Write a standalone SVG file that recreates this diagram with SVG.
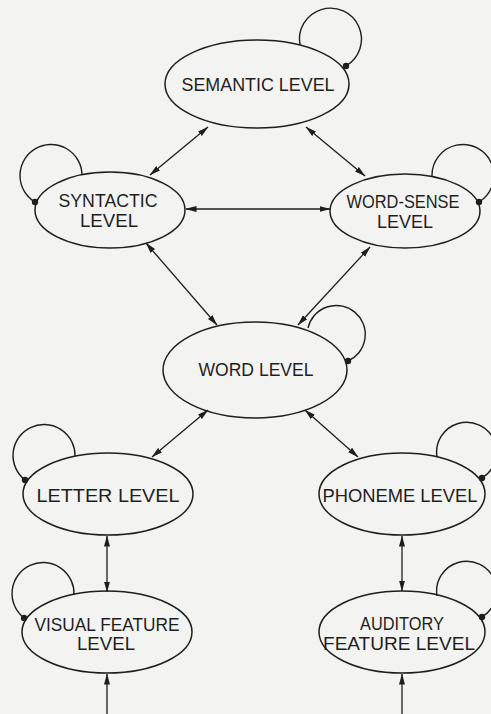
<svg xmlns="http://www.w3.org/2000/svg" width="491" height="714" viewBox="0 0 491 714">
<style>
.bg{fill:#f3f4f2}
.node ellipse{fill:none;stroke:#1e1e1e;stroke-width:1.5}
.loop{fill:none;stroke:#1e1e1e;stroke-width:1.4}
.dot{fill:#1e1e1e}
.lbl{font-family:"Liberation Sans",Arial,sans-serif;font-size:19px;fill:#1e1e1e;text-anchor:middle}
.edge{fill:none;stroke:#1e1e1e;stroke-width:1.3}
.bi{marker-start:url(#ah);marker-end:url(#ah)}
.uni{marker-end:url(#ah)}
</style>
<defs>
<marker id="ah" markerUnits="userSpaceOnUse" markerWidth="11" markerHeight="7" refX="10.5" refY="3.5" orient="auto-start-reverse" viewBox="0 0 11 7">
<path d="M0,0.5 L11,3.5 L0,6.5 Z" fill="#1e1e1e"/>
</marker>
</defs>
<rect class="bg" x="0" y="0" width="491" height="714"/>

<g id="connectors">
<line class="edge bi" x1="208" y1="127" x2="150" y2="175"/>
<line class="edge bi" x1="306" y1="127" x2="365" y2="176"/>
<line class="edge bi" x1="186" y1="209" x2="330" y2="209"/>
<line class="edge bi" x1="146" y1="243" x2="217" y2="325"/>
<line class="edge bi" x1="370" y1="247" x2="298" y2="325"/>
<line class="edge bi" x1="208" y1="410" x2="152" y2="457"/>
<line class="edge bi" x1="305" y1="410" x2="358" y2="457"/>
<line class="edge bi" x1="107" y1="536" x2="107" y2="592"/>
<line class="edge bi" x1="402" y1="536" x2="402" y2="591"/>
<line class="edge uni" x1="107" y1="714" x2="107" y2="674"/>
<line class="edge uni" x1="402" y1="714" x2="402" y2="674"/>
</g>

<g id="semantic" class="node">
<ellipse cx="257" cy="84" rx="92" ry="44"/>
<path class="loop" d="M300,45 A31,31 0 1 1 346,66"/>
<circle class="dot" cx="346" cy="66" r="3.2"/>
<text class="lbl" x="258" y="91" textLength="153" lengthAdjust="spacingAndGlyphs">SEMANTIC  LEVEL</text>
</g>

<g id="syntactic" class="node">
<ellipse cx="110" cy="210" rx="75" ry="38"/>
<path class="loop" d="M82,175 A31,31 0 1 0 35,202"/>
<circle class="dot" cx="35" cy="202" r="3.2"/>
<text class="lbl" x="108" y="207" textLength="99" lengthAdjust="spacingAndGlyphs">SYNTACTIC</text>
<text class="lbl" x="109" y="227" textLength="58" lengthAdjust="spacingAndGlyphs">LEVEL</text>
</g>

<g id="word-sense" class="node">
<ellipse cx="405" cy="211" rx="75" ry="37"/>
<path class="loop" d="M432,177 A31,31 0 1 1 479,202"/>
<circle class="dot" cx="479" cy="202" r="3.2"/>
<text class="lbl" x="403" y="208" textLength="113" lengthAdjust="spacingAndGlyphs">WORD-SENSE</text>
<text class="lbl" x="405" y="228" textLength="56" lengthAdjust="spacingAndGlyphs">LEVEL</text>
</g>

<g id="word" class="node">
<ellipse cx="255" cy="370" rx="92" ry="48"/>
<path class="loop" d="M308,328 A29,29 0 1 1 348,361"/>
<circle class="dot" cx="348" cy="361" r="3.2"/>
<text class="lbl" x="256" y="376" textLength="115" lengthAdjust="spacingAndGlyphs">WORD LEVEL</text>
</g>

<g id="letter" class="node">
<ellipse cx="108" cy="494" rx="85" ry="41"/>
<path class="loop" d="M75,456 A31,31 0 1 0 25,480"/>
<circle class="dot" cx="25" cy="480" r="3.2"/>
<text class="lbl" x="108" y="502" textLength="143" lengthAdjust="spacingAndGlyphs">LETTER  LEVEL</text>
</g>

<g id="phoneme" class="node">
<ellipse cx="402" cy="494" rx="83" ry="41"/>
<path class="loop" d="M437,457 A30,30 0 1 1 482,478"/>
<circle class="dot" cx="482" cy="478" r="3.2"/>
<text class="lbl" x="400" y="502" textLength="155" lengthAdjust="spacingAndGlyphs">PHONEME  LEVEL</text>
</g>

<g id="visual-feature" class="node">
<ellipse cx="107" cy="632" rx="85" ry="41"/>
<path class="loop" d="M74,595 A31,31 0 1 0 24,618"/>
<circle class="dot" cx="24" cy="618" r="3.2"/>
<text class="lbl" x="107" y="631" textLength="145" lengthAdjust="spacingAndGlyphs">VISUAL FEATURE</text>
<text class="lbl" x="106" y="650" textLength="58" lengthAdjust="spacingAndGlyphs">LEVEL</text>
</g>

<g id="auditory-feature" class="node">
<ellipse cx="402" cy="632" rx="83" ry="41"/>
<path class="loop" d="M437,596 A30,30 0 1 1 482,617"/>
<circle class="dot" cx="482" cy="617" r="3.2"/>
<text class="lbl" x="402" y="630" textLength="84" lengthAdjust="spacingAndGlyphs">AUDITORY</text>
<text class="lbl" x="399" y="650" textLength="152" lengthAdjust="spacingAndGlyphs">FEATURE LEVEL</text>
</g>
</svg>
